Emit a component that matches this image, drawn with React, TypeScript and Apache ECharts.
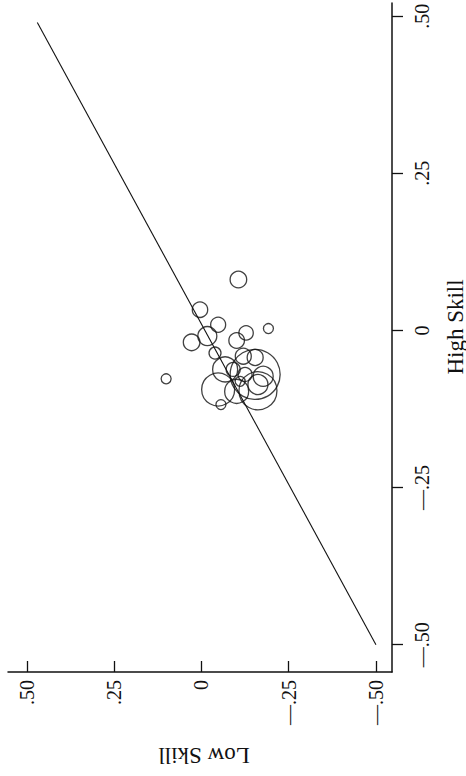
import React, { useEffect, useRef } from "react";
import * as echarts from "echarts";

// Each point: [Low Skill, High Skill, weight]
const lowSkill = [
  -0.106, 0.004, -0.048, -0.017, 0.028, -0.128, -0.192, -0.101, -0.039, 0.101, -0.154, -0.068,
  -0.048, -0.12, -0.154, -0.091, -0.125, -0.177, -0.162, -0.101, -0.056, -0.162, -0.111,
];
const highSkill = [
  0.081, 0.033, 0.009, -0.009, -0.019, -0.004, 0.003, -0.016, -0.036, -0.077, -0.07, -0.062,
  -0.094, -0.041, -0.043, -0.062, -0.07, -0.073, -0.096, -0.097, -0.118, -0.086, -0.081,
];
const weights = [
  8.3, 7.7, 7.5, 9.5, 8.3, 7.2, 5, 7.8, 6, 5, 25, 12.5, 16.5, 8, 8, 7, 7, 10, 19, 12, 5, 10, 5,
];
const fitLow = [-0.5, 0.47];
const fitHigh = [-0.5, 0.49];
const tickValues = [-0.5, -0.25, 0, 0.25, 0.5];
const xName = "High Skill";
const yName = "Low Skill";

const fmt = (v: number) => {
  if (Math.abs(v) < 1e-9) return "0";
  const s = Math.abs(v).toFixed(2).replace(/^0/, "");
  return v < 0 ? "—" + s : s;
};

export default function App() {
  const ref = useRef<HTMLDivElement>(null);
  useEffect(() => {
    if (!ref.current) return;
    const chart = echarts.init(ref.current, null, { renderer: "svg" });
    const font = "'Liberation Serif', 'DejaVu Serif', serif";
    const points = lowSkill.map((l, i) => [l, highSkill[i], weights[i]]);
    chart.setOption({
      animation: false,
      backgroundColor: "#fff",
      grid: { left: 8, right: 74, top: 3, bottom: 104, containLabel: false, outerBoundsMode: "none" },
      xAxis: {
        type: "value",
        position: "bottom",
        inverse: true,
        min: -0.546,
        max: 0.554,
        splitLine: { show: false },
        axisLine: { show: true, onZero: false, lineStyle: { color: "#111", width: 1.5 } },
        axisTick: { show: true, inside: true, length: 11, customValues: tickValues, lineStyle: { color: "#111", width: 1.3 } },
        axisLabel: {
          customValues: tickValues,
          rotate: 90,
          margin: 8,
          formatter: (v: number) => fmt(v),
          fontFamily: font,
          fontSize: 20,
          color: "#111",
        },
      },
      yAxis: {
        type: "value",
        position: "right",
        min: -0.5435,
        max: 0.521,
        splitLine: { show: false },
        axisLine: { show: true, onZero: false, lineStyle: { color: "#111", width: 1.5 } },
        axisTick: { show: true, inside: false, length: 11, customValues: tickValues, lineStyle: { color: "#111", width: 1.3 } },
        axisLabel: {
          customValues: tickValues,
          rotate: 90,
          margin: 20,
          formatter: (v: number) => fmt(v),
          fontFamily: font,
          fontSize: 20,
          color: "#111",
        },
      },
      graphic: [
        {
          type: "text",
          x: 455,
          y: 327,
          rotation: Math.PI / 2,
          style: { text: xName, font: `23px ${font}`, fill: "#111", align: "center", verticalAlign: "middle" },
        },
        {
          type: "text",
          x: 204,
          y: 755,
          rotation: Math.PI,
          style: { text: yName, font: `23px ${font}`, fill: "#111", align: "center", verticalAlign: "middle" },
        },
      ],
      series: [
        {
          type: "line",
          data: fitLow.map((l, i) => [l, fitHigh[i]]),
          symbol: "none",
          lineStyle: { color: "#111", width: 1.1 },
          z: 1,
        },
        {
          type: "scatter",
          data: points,
          symbolSize: (d: number[]) => d[2] * 2,
          itemStyle: { color: "rgba(0,0,0,0)", borderColor: "#111", borderWidth: 1.3 },
          z: 2,
        },
      ],
    });
    return () => chart.dispose();
  }, []);
  return <div ref={ref} style={{ position: "absolute", left: 0, top: 0, width: 466, height: 776 }} />;
}
